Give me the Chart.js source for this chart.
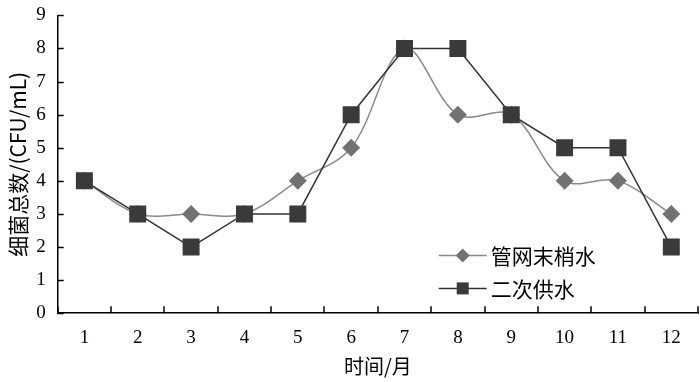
<!DOCTYPE html>
<html><head><meta charset="utf-8">
<script src="https://cdn.jsdelivr.net/npm/chart.js@4.4.0/dist/chart.umd.min.js"></script>
<style>html,body{margin:0;padding:0;background:#fff}#wrap{width:700px;height:382px}</style>
</head><body><div id="wrap"><canvas id="c" width="700" height="382"></canvas></div>
<script>
const months = ['1','2','3','4','5','6','7','8','9','10','11','12'];
const seriesNames = ['管网末梢水','二次供水'];
const pipeEnd = [4,3,3,3,4,5,8,6,6,4,4,3];
const secondary = [4,3,2,3,3,6,8,8,6,5,5,2];
const yTitle = '细菌总数/(CFU/mL)';
const xTitle = '时间/月';

const serif = "'Liberation Serif','Times New Roman',serif";
const cjk = "'Noto Sans CJK SC','Liberation Serif',sans-serif";

const innerTicks = {
  id:'innerTicks',
  afterDraw(chart){
    const ctx = chart.ctx, xs = chart.scales.x, ys = chart.scales.y, ca = chart.chartArea;
    ctx.save(); ctx.strokeStyle='#000'; ctx.lineWidth=1.5;
    ys.ticks.forEach(t=>{ const y=Math.round(ys.getPixelForValue(t.value))+0.5;
      ctx.beginPath(); ctx.moveTo(ca.left,y); ctx.lineTo(ca.left+6,y); ctx.stroke(); });
    for(let i=0;i<=months.length;i++){ const x=Math.round(xs.getPixelForValue(i-0.5));
      ctx.beginPath(); ctx.moveTo(x,ca.bottom); ctx.lineTo(x,ca.bottom-7); ctx.stroke(); }
    ctx.restore();
  }
};
const customLegend = {
  id:'customLegend',
  afterDraw(chart){
    const ctx=chart.ctx, ca=chart.chartArea;
    const x0=ca.left+381, rows=[ca.top+240, ca.top+273];
    chart.data.datasets.forEach((ds,i)=>{
      const y=rows[i];
      ctx.save();
      ctx.strokeStyle=ds.borderColor; ctx.lineWidth=1.5;
      ctx.beginPath(); ctx.moveTo(x0,y); ctx.lineTo(x0+48,y); ctx.stroke();
      ctx.fillStyle=ds.pointBackgroundColor;
      ctx.beginPath();
      const cx=x0+24;
      if(ds.pointStyle==='rectRot'){const r=7;ctx.moveTo(cx,y-r);ctx.lineTo(cx+r,y);ctx.lineTo(cx,y+r);ctx.lineTo(cx-r,y);ctx.closePath();}
      else {const h=6;ctx.rect(cx-h,y-h,2*h,2*h);}
      ctx.fill();
      ctx.fillStyle='#000'; ctx.font='21px '+cjk; ctx.textBaseline='middle';
      ctx.fillText(ds.label,x0+52,y+1);
      ctx.restore();
    });
  }
};

new Chart(document.getElementById('c'),{
  type:'line',
  data:{labels:months,datasets:[
    {label:seriesNames[0],data:pipeEnd,borderColor:'#8a8a8a',borderWidth:1.5,tension:0.35,
     pointStyle:'rectRot',pointRadius:9,pointBackgroundColor:'#727272',pointBorderWidth:0,order:2},
    {label:seriesNames[1],data:secondary,borderColor:'#333333',borderWidth:1.5,tension:0,
     pointStyle:'rect',pointRadius:12,pointBackgroundColor:'#3a3a3a',pointBorderWidth:0,order:1}
  ]},
  options:{
    responsive:false,animation:false,
    layout:{autoPadding:false,padding:{top:9,right:2,bottom:4,left:5}},
    plugins:{legend:{display:false},tooltip:{enabled:false}},
    scales:{
      x:{offset:true,grid:{display:false},border:{display:true,color:'#000',width:1.5},
         ticks:{color:'#000',font:{family:serif,size:19},padding:5,maxRotation:0},
         title:{display:true,text:xTitle,color:'#000',font:{family:cjk,size:20},padding:{top:0,bottom:0}}},
      y:{min:0,max:9,grid:{display:false},border:{display:true,color:'#000',width:1.5},
         ticks:{stepSize:1,color:'#000',font:{family:serif,size:19},padding:4},
         title:{display:true,text:yTitle,color:'#000',font:{family:cjk,size:21},padding:{top:0,bottom:2}}}
    }
  },
  plugins:[innerTicks,customLegend]
});
</script></body></html>
